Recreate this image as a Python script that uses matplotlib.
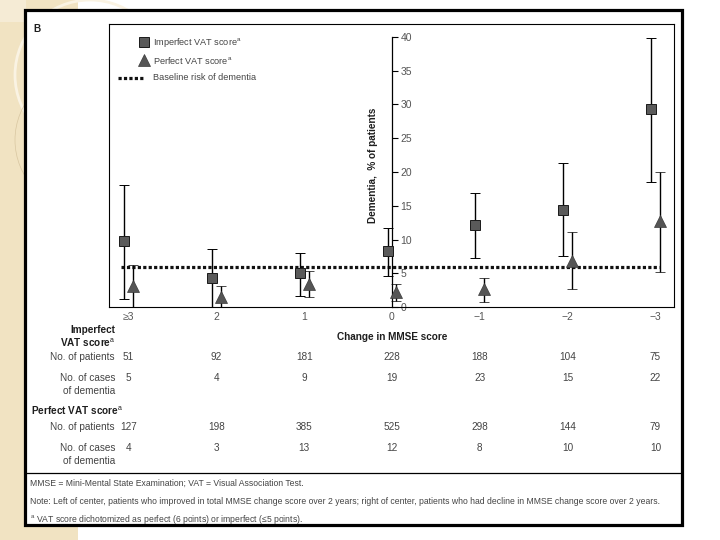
import matplotlib
matplotlib.use('Agg')
import matplotlib.pyplot as plt
from matplotlib.patches import Rectangle, Ellipse
from matplotlib.lines import Line2D
import matplotlib.transforms as mtransforms

# ---------------- data ----------------
categories = ['≥3', '2', '1', '0', '−1', '−2', '−3']
imperfect_pct = [9.8, 4.3, 5.0, 8.3, 12.2, 14.4, 29.3]
imperfect_lo = [1.2, 0.0, 1.7, 4.7, 7.3, 7.6, 18.6]
imperfect_hi = [18.1, 8.6, 8.1, 11.8, 16.9, 21.3, 39.9]
perfect_pct = [3.1, 1.5, 3.4, 2.3, 2.7, 6.9, 12.7]
perfect_lo = [0.0, 0.0, 1.5, 1.0, 0.8, 2.7, 5.2]
perfect_hi = [6.2, 3.2, 5.4, 3.5, 4.4, 11.1, 20.0]
baseline_risk = 5.9
y_ticks = [0, 5, 10, 15, 20, 25, 30, 35, 40]
imperfect_patients = [51, 92, 181, 228, 188, 104, 75]
imperfect_cases = [5, 4, 9, 19, 23, 15, 22]
perfect_patients = [127, 198, 385, 525, 298, 144, 79]
perfect_cases = [4, 3, 13, 12, 8, 10, 10]

# ---------------- style ----------------
FAM = ['Liberation Sans', 'DejaVu Sans']
plt.rcParams['font.family'] = FAM
plt.rcParams['mathtext.fontset'] = 'custom'
plt.rcParams['mathtext.rm'] = 'Liberation Sans'
TXT = '#444444'
DARK = '#1e1e1e'

W, H = 720, 540
fig = plt.figure(figsize=(7.2, 5.4), dpi=100)
fig.patch.set_facecolor('white')

def fx(px):
    return px / W

def fy(py):
    return 1 - py / H

# decorative background strip
fig.patches.append(Rectangle((0, 0), fx(78), 1, transform=fig.transFigure,
                             facecolor='#F1E3C2', edgecolor='none', zorder=0))
fig.patches.append(Rectangle((0, fy(22)), fx(26), fy(0) - fy(22), transform=fig.transFigure,
                             facecolor='#F5EBD5', edgecolor='none', zorder=0))
fig.patches.append(Ellipse((fx(90), fy(75)), 2 * 75 / W, 2 * 75 / H, transform=fig.transFigure,
                           facecolor='none', edgecolor='#FAF3E3', lw=2.0, zorder=0.2))
fig.patches.append(Ellipse((fx(85), fy(140)), 2 * 70 / W, 2 * 70 / H, transform=fig.transFigure,
                           facecolor='none', edgecolor='#D8C6A0', lw=0.5, zorder=0.2))

# black frame with white interior
fig.patches.append(Rectangle((fx(25), fy(525)), fx(682) - fx(25), fy(10) - fy(525),
                             transform=fig.transFigure, facecolor='white',
                             edgecolor='black', lw=2.3, zorder=1))

# ---------------- axes ----------------
ax = fig.add_axes([fx(109), fy(307.3), fx(674) - fx(109), fy(24) - fy(307.3)])
ax.set_zorder(3)
ax.set_facecolor('none')
ax.set_xlim(-0.222, 6.211)
ax.set_ylim(0, 41.9)

for s in ['left', 'top', 'bottom']:
    ax.spines[s].set_linewidth(0.8)
    ax.spines[s].set_color('black')
ax.spines['right'].set_position(('data', 3.0))
ax.spines['right'].set_bounds(0, 40)
ax.spines['right'].set_linewidth(0.9)
ax.plot([1, 1], [0, 1], transform=ax.transAxes, color='black', lw=0.8, clip_on=False)

ax.yaxis.set_ticks_position('right')
ax.set_yticks(y_ticks)
ax.set_yticklabels([str(v) for v in y_ticks])
ax.tick_params(axis='y', direction='out', length=4.3, width=0.8, pad=1.8,
               labelsize=7.5, labelcolor='#555555')
for lab in ax.get_yticklabels():
    if lab.get_text() == '0':
        lab.set_bbox(dict(facecolor='white', edgecolor='none', pad=0.8))

xs = list(range(len(categories)))
ax.set_xticks(xs)
ax.set_xticklabels(categories)
ax.tick_params(axis='x', length=0, pad=3.4, labelsize=7.5, labelcolor='#555555')

# baseline
ax.hlines(baseline_risk, -0.09, 6.04, colors='#111111', linestyles=(0, (1.0, 0.7)),
          lw=2.3, zorder=2)

# error bars and markers
x_imp = [x - 0.051 for x in xs]
x_per = [x + 0.051 for x in xs]
imp_err = [[p - l for p, l in zip(imperfect_pct, imperfect_lo)],
           [h - p for p, h in zip(imperfect_pct, imperfect_hi)]]
per_err = [[p - l for p, l in zip(perfect_pct, perfect_lo)],
           [h - p for p, h in zip(perfect_pct, perfect_hi)]]
e1 = ax.errorbar(x_imp, imperfect_pct, yerr=imp_err, fmt='s', ms=7.0,
                 mfc='#5a5a5a', mec='#1a1a1a', mew=0.7, ecolor='black',
                 elinewidth=1.0, capsize=3.5, capthick=1.0, zorder=4)
e2 = ax.errorbar(x_per, perfect_pct, yerr=per_err, fmt='^', ms=9.0,
                 mfc='#555555', mec='#3a3a3a', mew=0.5, ecolor='black',
                 elinewidth=1.0, capsize=3.5, capthick=1.0, zorder=4)
for e in (e1, e2):
    for art in [e[0], *e[1], *e[2]]:
        art.set_clip_on(False)

# y label
fig.text(fx(373), fy(165), 'Dementia,  % of patients', rotation=90, ha='center',
         va='center', fontsize=7.2, fontweight='bold', color=DARK)
# x label
fig.text(fx(392), fy(337), 'Change in MMSE score', ha='center', va='center',
         fontsize=7.2, fontweight='bold', color=DARK)
# panel letter
fig.text(fx(33), fy(29), 'B', ha='left', va='center', fontsize=7.2,
         fontweight='bold', color=DARK)

# legend (manual)
fig.add_artist(Line2D([fx(144)], [fy(42)], marker='s', ms=7, mfc='#5a5a5a',
                      mec='#1a1a1a', mew=0.7, ls='none', transform=fig.transFigure))
fig.add_artist(Line2D([fx(144)], [fy(60)], marker='^', ms=9, mfc='#555555',
                      mec='#3a3a3a', mew=0.5, ls='none', transform=fig.transFigure))
fig.add_artist(Line2D([fx(118), fx(144)], [fy(77.5), fy(77.5)], color='#111111',
                      ls=(0, (1.0, 0.7)), lw=2.3, transform=fig.transFigure))
leg_texts = [r'Imperfect VAT score$^{\mathrm{a}}$', r'Perfect VAT score$^{\mathrm{a}}$',
             'Baseline risk of dementia']
for t, yy in zip(leg_texts, [42.5, 60.5, 77.5]):
    fig.text(fx(153), fy(yy), t, ha='left', va='center', fontsize=6.6, color=TXT)

# ---------------- table ----------------
bt = mtransforms.blended_transform_factory(ax.transData, fig.transFigure)
RX = fx(115)

fig.text(RX, fy(330), 'Imperfect', ha='right', va='center', fontsize=7.2,
         fontweight='bold', color=DARK)
fig.text(RX, fy(343), r'VAT score$^{\mathrm{a}}$', ha='right', va='center', fontsize=7.2,
         fontweight='bold', color=DARK)
fig.text(RX, fy(357), 'No. of patients', ha='right', va='center', fontsize=7.2, color=TXT)
fig.text(RX, fy(378), 'No. of cases', ha='right', va='center', fontsize=7.2, color=TXT)
fig.text(RX, fy(391), 'of dementia', ha='right', va='center', fontsize=7.2, color=TXT)
fig.text(fx(31), fy(411), r'Perfect VAT score$^{\mathrm{a}}$', ha='left', va='center',
         fontsize=7.2, fontweight='bold', color=DARK)
fig.text(RX, fy(427), 'No. of patients', ha='right', va='center', fontsize=7.2, color=TXT)
fig.text(RX, fy(448), 'No. of cases', ha='right', va='center', fontsize=7.2, color=TXT)
fig.text(RX, fy(461), 'of dementia', ha='right', va='center', fontsize=7.2, color=TXT)

for row, yy in [(imperfect_patients, 357), (imperfect_cases, 378),
                (perfect_patients, 427), (perfect_cases, 448)]:
    for x, v in zip(xs, row):
        ax.text(x, fy(yy), str(v), transform=bt, ha='center', va='center',
                fontsize=7.2, color=TXT, clip_on=False)

# separator line
fig.add_artist(Line2D([fx(25), fx(682)], [fy(473), fy(473)], color='black', lw=0.9,
                      transform=fig.transFigure))

# footnotes
foot = ['MMSE = Mini-Mental State Examination; VAT = Visual Association Test.',
        'Note: Left of center, patients who improved in total MMSE change score over 2 years; '
        'right of center, patients who had decline in MMSE change score over 2 years.',
        r'$^{\mathrm{a}}$ VAT score dichotomized as perfect (6 points) or imperfect (≤5 points).']
for t, yy in zip(foot, [483, 501, 519]):
    fig.text(fx(30), fy(yy), t, ha='left', va='center', fontsize=6.2, color=TXT)

fig.savefig('out.png', dpi=100)
